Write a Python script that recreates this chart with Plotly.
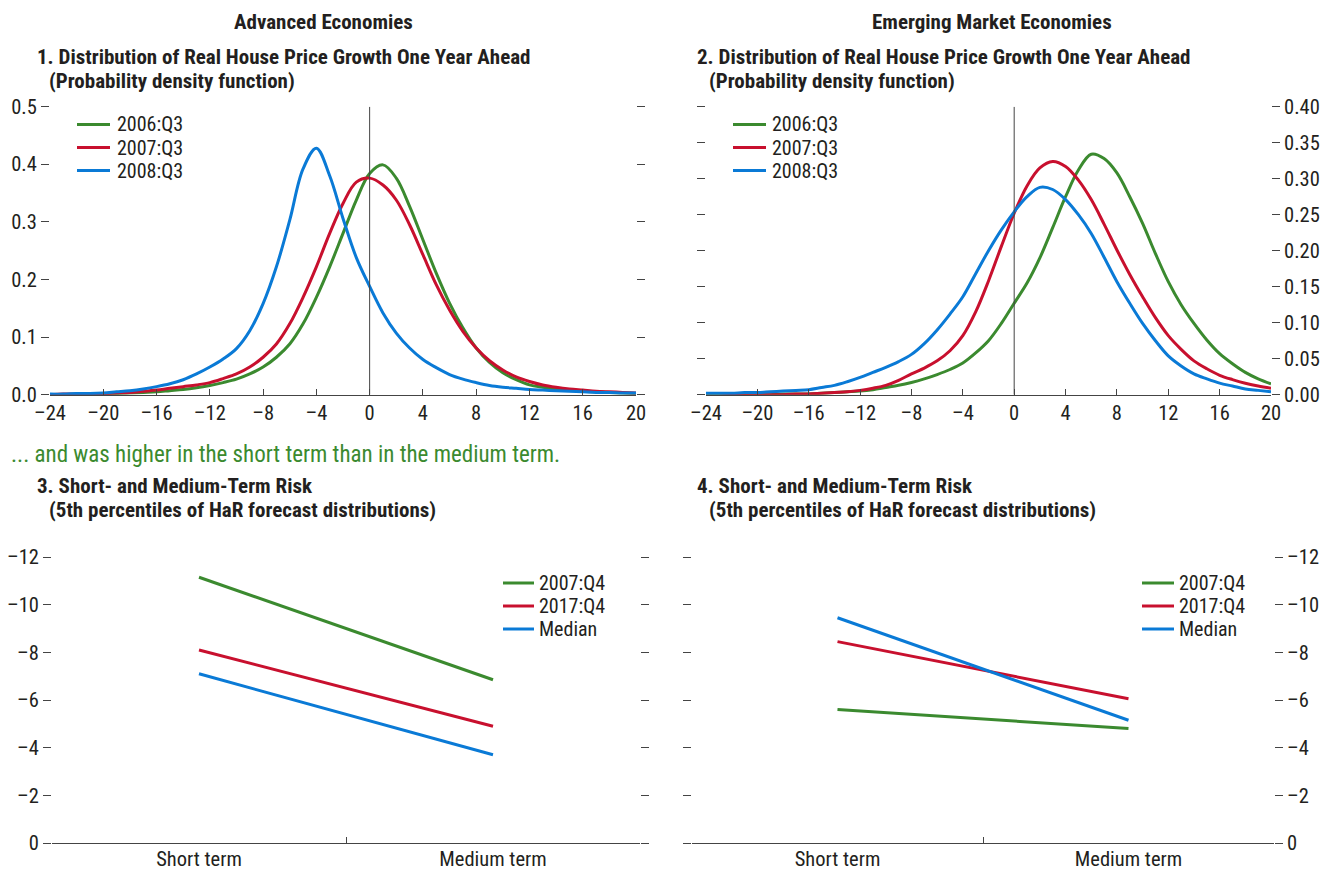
import plotly.graph_objects as go

W, H = 1322, 871
FONT = "Liberation Sans Narrow, Roboto Condensed, DejaVu Sans Condensed, Arial Narrow, sans-serif"
TXT = "#231F20"
GREEN = "#3B8A2F"
RED = "#C8102E"
BLUE = "#0A7AD6"

# ---------- Panels 1-2: x grid (real house price growth, percent) ----------
growth = list(range(-24, 21))

# Panel 1: Advanced economies, probability density
ae_2006q3 = [0.000, 0.000, 0.001, 0.001, 0.001, 0.002, 0.003, 0.004, 0.005, 0.007, 0.009, 0.012, 0.016, 0.021, 0.027,
             0.036, 0.048, 0.065, 0.088, 0.123, 0.169, 0.222, 0.280, 0.338, 0.384, 0.399, 0.376, 0.327, 0.269, 0.211,
             0.159, 0.116, 0.081, 0.056, 0.038, 0.026, 0.017, 0.013, 0.010, 0.008, 0.006, 0.005, 0.004, 0.003, 0.002]
ae_2007q3 = [0.000, 0.001, 0.001, 0.002, 0.002, 0.003, 0.004, 0.006, 0.008, 0.011, 0.014, 0.017, 0.021, 0.028, 0.036,
             0.048, 0.065, 0.088, 0.123, 0.169, 0.222, 0.280, 0.332, 0.369, 0.376, 0.364, 0.338, 0.295, 0.243, 0.191,
             0.147, 0.110, 0.081, 0.059, 0.043, 0.031, 0.023, 0.017, 0.013, 0.010, 0.008, 0.006, 0.005, 0.004, 0.003]
ae_2008q3 = [0.001, 0.001, 0.002, 0.002, 0.003, 0.005, 0.007, 0.010, 0.014, 0.019, 0.026, 0.036, 0.048, 0.062, 0.080,
             0.111, 0.158, 0.222, 0.303, 0.392, 0.428, 0.380, 0.306, 0.238, 0.188, 0.142, 0.107, 0.081, 0.061, 0.047,
             0.035, 0.027, 0.021, 0.016, 0.013, 0.011, 0.009, 0.008, 0.007, 0.006, 0.005, 0.004, 0.004, 0.003, 0.003]

# Panel 2: Emerging market economies, probability density
em_2006q3 = [-0.001, -0.001, 0.000, 0.000, 0.000, 0.000, 0.001, 0.001, 0.001, 0.002, 0.003, 0.004, 0.005, 0.007, 0.010,
             0.013, 0.017, 0.022, 0.028, 0.035, 0.044, 0.058, 0.075, 0.099, 0.127, 0.155, 0.190, 0.232, 0.275, 0.312,
             0.334, 0.328, 0.308, 0.275, 0.238, 0.196, 0.157, 0.125, 0.099, 0.076, 0.057, 0.043, 0.031, 0.022, 0.015]
em_2007q3 = [-0.002, -0.002, -0.001, -0.001, 0.000, 0.000, 0.000, 0.001, 0.001, 0.002, 0.003, 0.004, 0.006, 0.009, 0.013,
             0.020, 0.029, 0.037, 0.047, 0.061, 0.082, 0.115, 0.158, 0.206, 0.252, 0.290, 0.315, 0.324, 0.317, 0.298,
             0.271, 0.237, 0.201, 0.167, 0.136, 0.107, 0.082, 0.063, 0.047, 0.036, 0.027, 0.021, 0.016, 0.012, 0.009]
em_2008q3 = [0.002, 0.002, 0.002, 0.003, 0.003, 0.004, 0.005, 0.006, 0.007, 0.010, 0.013, 0.018, 0.024, 0.031, 0.038,
             0.046, 0.056, 0.071, 0.090, 0.112, 0.136, 0.168, 0.200, 0.229, 0.254, 0.275, 0.288, 0.285, 0.271, 0.250,
             0.224, 0.191, 0.157, 0.127, 0.099, 0.075, 0.054, 0.040, 0.029, 0.022, 0.016, 0.012, 0.008, 0.006, 0.004]

pdf_names = ["2006:Q3", "2007:Q3", "2008:Q3"]
pdf_xticks = [-24, -20, -16, -12, -8, -4, 0, 4, 8, 12, 16, 20]

# ---------- Panels 3-4: Short- and medium-term risk ----------
horizons = ["Short term", "Medium term"]
risk_names = ["2007:Q4", "2017:Q4", "Median"]
ae_risk_2007 = [-11.15, -6.85]
ae_risk_2017 = [-8.1, -4.9]
ae_risk_median = [-7.1, -3.7]
em_risk_2007 = [-5.6, -4.8]
em_risk_2017 = [-8.45, -6.05]
em_risk_median = [-9.45, -5.15]
risk_yticks = [0, -2, -4, -6, -8, -10, -12]


def px(x):
    return x / W


def py(y):
    return 1 - y / H


def lab(v):
    return ("–" + str(abs(v))) if v < 0 else str(v)


colors = [GREEN, RED, BLUE]
fig = go.Figure()

for nm, ys, c in zip(pdf_names, [ae_2006q3, ae_2007q3, ae_2008q3], colors):
    fig.add_trace(go.Scatter(x=growth, y=ys, name=nm, mode="lines",
                             line=dict(color=c, width=3, shape="spline", smoothing=1.0),
                             xaxis="x", yaxis="y"))
for nm, ys, c in zip(pdf_names, [em_2006q3, em_2007q3, em_2008q3], colors):
    fig.add_trace(go.Scatter(x=growth, y=ys, name=nm, mode="lines",
                             line=dict(color=c, width=3, shape="spline", smoothing=1.0),
                             xaxis="x2", yaxis="y2"))
for nm, ys, c in zip(risk_names, [ae_risk_2007, ae_risk_2017, ae_risk_median], colors):
    fig.add_trace(go.Scatter(x=horizons, y=ys, name=nm, mode="lines", line=dict(color=c, width=3),
                             xaxis="x3", yaxis="y3"))
for nm, ys, c in zip(risk_names, [em_risk_2007, em_risk_2017, em_risk_median], colors):
    fig.add_trace(go.Scatter(x=horizons, y=ys, name=nm, mode="lines", line=dict(color=c, width=3),
                             xaxis="x4", yaxis="y4"))

tickfont = dict(family=FONT, size=20.5, color=TXT)

# plot-area pixel boxes (left, right, top, bottom)
P1 = (50, 636, 106.7, 394.7)
P2 = (706, 1271, 106.7, 394.7)
P3 = (52, 640, 557, 843)
P4 = (692, 1274, 557, 843)


def dom(P):
    x0, x1, y0, y1 = P
    return [px(x0), px(x1)], [py(y1), py(y0)]


def xpdf(P):
    d, _ = dom(P)
    return dict(domain=d, range=[-24, 20], tickvals=pdf_xticks, ticktext=[lab(v) for v in pdf_xticks],
                showline=True, linecolor="#444", linewidth=1, ticks="inside", ticklen=6, tickcolor="#444",
                showgrid=False, zeroline=False, tickfont=tickfont, fixedrange=True, automargin=False)


def ycommon(P, rng, vals, text, side, anchor):
    _, d = dom(P)
    return dict(domain=d, range=rng, tickvals=vals, ticktext=text, side=side, anchor=anchor,
                showline=False, ticks="outside", ticklen=8, tickcolor="#444", tickwidth=1, mirror="ticks",
                showgrid=False, zeroline=False, tickfont=tickfont, fixedrange=True, automargin=False)


def xcat(P):
    d, _ = dom(P)
    return dict(domain=d, type="category", range=[-0.5, 1.5], tickson="boundaries",
                showline=True, linecolor="#444", linewidth=1, ticks="inside", ticklen=6, tickcolor="#444",
                showgrid=False, zeroline=False, tickfont=tickfont, fixedrange=True, automargin=False,
                ticklabelstandoff=-3)


ae_pdf_yt = [0, 0.1, 0.2, 0.3, 0.4, 0.5]
em_pdf_yt = [0, 0.05, 0.10, 0.15, 0.20, 0.25, 0.30, 0.35, 0.40]

fig.update_layout(
    width=W, height=H, margin=dict(l=0, r=0, t=0, b=0, autoexpand=False),
    paper_bgcolor="white", plot_bgcolor="white",
    font=dict(family=FONT, size=18, color=TXT),
    xaxis=dict(**xpdf(P1), anchor="y"),
    yaxis=ycommon(P1, [0, 0.5], ae_pdf_yt, ["%.1f" % v for v in ae_pdf_yt], "left", "x"),
    xaxis2=dict(**xpdf(P2), anchor="y2"),
    yaxis2=ycommon(P2, [0, 0.4], em_pdf_yt, ["%.2f" % v for v in em_pdf_yt], "right", "x2"),
    xaxis3=dict(**xcat(P3), anchor="y3"),
    yaxis3=ycommon(P3, [0, -12], risk_yticks, [lab(v) for v in risk_yticks], "left", "x3"),
    xaxis4=dict(**xcat(P4), anchor="y4"),
    yaxis4=ycommon(P4, [0, -12], risk_yticks, [lab(v) for v in risk_yticks], "right", "x4"),
    showlegend=False,
)

# zero reference lines
fig.add_shape(type="line", xref="x", yref="y", x0=0, x1=0, y0=0, y1=0.5, line=dict(color="#444", width=1))
fig.add_shape(type="line", xref="x2", yref="y2", x0=0, x1=0, y0=0, y1=0.4, line=dict(color="#444", width=1))

# legends (key line + label), placed like the reference's compact legends
leg_font = dict(family=FONT, size=20, color=TXT)
legend_specs = [  # (names, key x0, key x1, text x, first row y)
    (pdf_names, 77, 110, 116, 124.5),
    (pdf_names, 733, 766, 771, 124.5),
    (risk_names, 503, 534, 538, 583),
    (risk_names, 1142, 1174, 1178, 583),
]
ROW = 23
for names, k0, k1, tx, y0 in legend_specs:
    for i, (nm, c) in enumerate(zip(names, colors)):
        yy = y0 + i * ROW
        fig.add_shape(type="line", xref="paper", yref="paper", x0=px(k0), x1=px(k1), y0=py(yy), y1=py(yy),
                      line=dict(color=c, width=3))
        fig.add_annotation(text=nm, x=px(tx), y=py(yy), xref="paper", yref="paper", xanchor="left",
                           yanchor="middle", showarrow=False, font=leg_font, borderpad=0)

bold = dict(family=FONT, size=21, color=TXT)
annos = [
    ("<b>Advanced Economies</b>", 323, 22, "center", bold),
    ("<b>Emerging Market Economies</b>", 992, 22, "center", bold),
    ("<b>1. Distribution of Real House Price Growth One Year Ahead</b>", 36, 57, "left", bold),
    ("<b>(Probability density function)</b>", 48, 81, "left", bold),
    ("<b>2. Distribution of Real House Price Growth One Year Ahead</b>", 696, 57, "left", bold),
    ("<b>(Probability density function)</b>", 708, 81, "left", bold),
    ("... and was higher in the short term than in the medium term.", 10, 454, "left",
     dict(family=FONT, size=23, color=GREEN)),
    ("<b>3. Short- and Medium-Term Risk</b>", 36, 486, "left", bold),
    ("<b>(5th percentiles of HaR forecast distributions)</b>", 48, 510, "left", bold),
    ("<b>4. Short- and Medium-Term Risk</b>", 696, 486, "left", bold),
    ("<b>(5th percentiles of HaR forecast distributions)</b>", 708, 510, "left", bold),
]
for t, x, y, xa, f in annos:
    fig.add_annotation(text=t, x=px(x), y=py(y), xref="paper", yref="paper", xanchor=xa, yanchor="middle",
                       showarrow=False, font=f, borderpad=0)

fig.write_html("out.html", config={"displayModeBar": False},
               post_script="document.body.style.margin='0';document.body.style.overflow='hidden';")
